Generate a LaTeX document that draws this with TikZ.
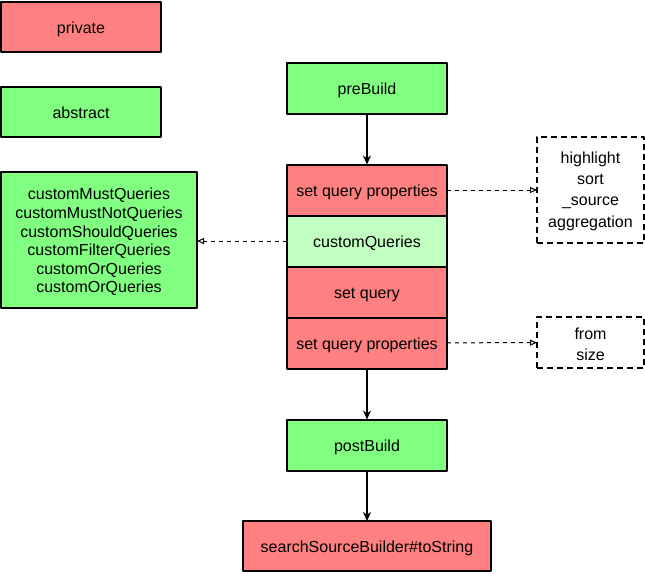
\documentclass[tikz,border=0pt]{standalone}
\usepackage{fontspec}
\setmainfont{Liberation Sans}
\usetikzlibrary{positioning,arrows.meta}
\definecolor{privred}{HTML}{FF8080}
\definecolor{absgreen}{HTML}{80FF80}
\definecolor{hookgreen}{HTML}{C0FFC0}
\tikzset{
  box/.style={draw=black, line width=2pt, minimum width=160pt, minimum height=51pt, inner sep=0pt, outer sep=0pt, align=center, text height=15pt, text depth=3pt},
  priv/.style={box, fill=privred},
  abst/.style={box, fill=absgreen},
  hook/.style={box, fill=hookgreen},
  multi/.style={text height=, text depth=},
  note/.style={draw=black, line width=2pt, dash pattern=on 6pt off 4pt, minimum width=107pt, inner sep=0pt, outer sep=0pt, align=center, font=\fontsize{16}{21.3}\selectfont},
  flow/.style={-{Stealth[length=9pt,width=8pt]}, line width=2pt},
  refer/.style={-{Triangle[open,length=7pt,width=6pt]}, line width=1pt, dash pattern=on 4pt off 4pt}
}
\begin{document}
\begin{tikzpicture}[x=1pt, y=-1pt, font=\fontsize{16}{18.6}\selectfont, line join=round]
\useasboundingbox (0,0) rectangle (645,573);
% legend
\node[priv, minimum height=50pt] (legpriv) at (81,27) {private};
\node[abst, minimum height=50pt] (legabst) at (81,112) {abstract};
% build chain
\node[abst] (prebuild) at (367,88) {preBuild};
\node[priv] (props1) at (367,190) {set query properties};
\node[hook, below=0pt of props1] (custom) {customQueries};
\node[priv, below=0pt of custom] (setq) {set query};
\node[priv, below=0pt of setq] (props2) {set query properties};
\node[abst] (postbuild) at (367,445) {postBuild};
\node[priv, minimum width=248pt, minimum height=50pt] (tostr) at (367,546) {searchSourceBuilder\#toString};
% side notes
\node[abst, multi, minimum width=196pt, minimum height=136pt] (hooks) at (99,240)
  {\rule{0pt}{16pt}customMustQueries\\customMustNotQueries\\customShouldQueries\\customFilterQueries\\customOrQueries\\customOrQueries};
\node[note, minimum height=106pt] (propnote) at (590.5,189.5) {\rule{0pt}{15pt}highlight\\sort\\\_source\\aggregation};
\node[note, minimum height=51pt] (pagenote) at (590.5,342.5) {\rule{0pt}{15pt}from\\size};
% connectors
\draw[flow] (prebuild) -- (props1);
\draw[flow] (props2) -- (postbuild);
\draw[flow] (postbuild) -- (tostr);
\draw[refer] (props1) -- (propnote.west |- props1);
\draw[refer] (custom) -- (hooks.east |- custom);
\draw[refer] (props2) -- (pagenote);
\end{tikzpicture}
\end{document}
